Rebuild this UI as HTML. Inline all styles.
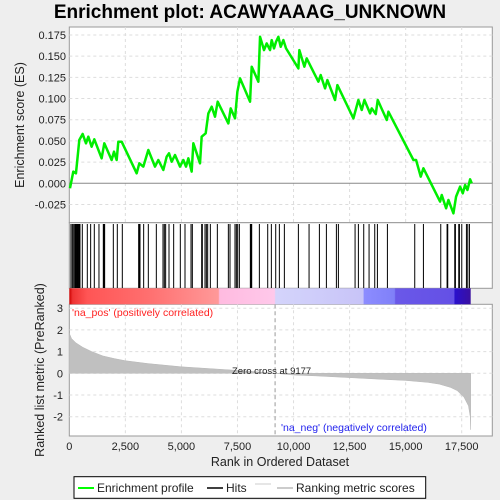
<!DOCTYPE html>
<html><head><meta charset="utf-8"><style>
body{margin:0;background:#eeeeee;}
svg{display:block;font-family:"Liberation Sans",sans-serif;}
</style></head><body>
<svg id="chart" width="500" height="500" viewBox="0 0 500 500">
<rect x="0" y="0" width="500" height="500" fill="#eeeeee"/>
<text x="250" y="18" text-anchor="middle" font-size="19" font-weight="bold" fill="#000">Enrichment plot: ACAWYAAAG_UNKNOWN</text>
<rect x="69.3" y="27" width="423" height="195.7" fill="#fff" stroke="#999"/>
<rect x="69.3" y="222.7" width="423" height="65.6" fill="#fff" stroke="#999"/>
<rect x="69.3" y="304.3" width="423" height="131.7" fill="#fff" stroke="#999"/>
<g id="grid"></g>
<g id="bar"></g>
<g id="hits"></g>
<g id="metric"></g>
<g id="es"></g>
<g id="axes"></g>
<text transform="translate(24,125) rotate(-90)" text-anchor="middle" font-size="12.5" fill="#222">Enrichment score (ES)</text>
<text transform="translate(44,370) rotate(-90)" text-anchor="middle" font-size="12.5" fill="#222">Ranked list metric (PreRanked)</text>
<text x="280" y="466" text-anchor="middle" font-size="12.5" fill="#222">Rank in Ordered Dataset</text>
<text x="72" y="316" font-size="10.5" fill="#ff2020">'na_pos' (positively correlated)</text>
<text x="281" y="431" font-size="10.5" fill="#2222ee">'na_neg' (negatively correlated)</text>
<text x="232" y="374" font-size="9.5" fill="#222">Zero cross at 9177</text>
<g>
<rect x="74" y="476.7" width="351.7" height="21.6" fill="#fff" stroke="#000"/>
<line x1="78" y1="488" x2="94" y2="488" stroke="#00ff00" stroke-width="2"/>
<text x="97" y="492" font-size="12" fill="#222">Enrichment profile</text>
<line x1="207" y1="488" x2="223" y2="488" stroke="#000" stroke-width="1.5"/>
<text x="226" y="492" font-size="12" fill="#222">Hits</text>
<line x1="255" y1="484" x2="271" y2="484" stroke="#ccc" stroke-width="1"/>
<line x1="277" y1="488" x2="293" y2="488" stroke="#bbb" stroke-width="1.5"/>
<text x="296" y="492" font-size="12" fill="#222">Ranking metric scores</text>
</g>
</svg>
<script>
const esRanks=[30,104,178,297,357,446,595,744,848,996,1115,1442,1561,1888,1993,2112,2186,2335,3004,3123,3301,3524,3822,3970,4193,4342,4446,4565,4714,4937,5086,5205,5309,5457,5532,5829,5903,6082,6201,6350,6498,6617,7093,7197,7390,7495,7614,8060,8134,8432,8506,8684,8803,8952,9026,9130,9219,9324,9428,9547,9666,10216,10260,10483,10587,11108,11212,11405,11509,11851,11955,12669,12892,13041,13160,13413,13487,13666,13755,14157,14231,15346,15465,15673,15792,16535,16610,16803,16907,17130,17249,17428,17547,17651,17755,17874,17948];
const esValues=[-0.0059,0.0039,0.0138,0.0118,0.0275,0.0511,0.0582,0.0472,0.055,0.0432,0.0519,0.0295,0.0472,0.0275,0.0373,0.0275,0.0491,0.0491,0.0118,0.0236,0.0197,0.0393,0.0197,0.0275,0.0157,0.0314,0.0354,0.0255,0.0334,0.0197,0.0275,0.0197,0.0295,0.0138,0.0472,0.0236,0.055,0.059,0.0825,0.0904,0.0786,0.0963,0.0707,0.0884,0.0766,0.1081,0.1238,0.0963,0.1376,0.1199,0.1729,0.1572,0.1651,0.1572,0.169,0.1592,0.167,0.1729,0.1611,0.169,0.1592,0.1356,0.1572,0.1376,0.1474,0.1199,0.1277,0.112,0.1218,0.0983,0.1159,0.0766,0.0983,0.0865,0.0983,0.0825,0.0884,0.0817,0.0983,0.0747,0.0845,0.0275,0.0275,0.0079,0.0177,-0.0216,-0.0138,-0.0295,-0.0197,-0.0354,-0.0157,-0.0039,-0.0118,-0.002,-0.0079,0.0047,0.0];
const hitRanks=[74,134,178,238,268,297,327,357,387,416,446,476,580,803,952,1115,1323,1517,1546,1576,1963,2141,2364,3093,3123,3153,3316,3524,3881,4178,4238,4297,4446,4654,4951,5160,5428,5487,5903,5933,6052,6112,6171,6290,6602,7093,7167,7390,7450,7509,7584,8074,8104,8134,8476,8848,9011,9205,9368,9591,10216,10692,11153,11465,11911,12000,12744,12892,13130,13368,13621,13740,14186,15405,15792,16565,16847,16877,17189,17219,17368,17398,17502,17710,17770,17844];
const metricRanks=[0,100,300,600,1000,1500,2000,2500,3500,5000,6500,8000,9177,10000,11000,12500,14000,15000,16000,16500,17000,17300,17600,17800,17880,17900];
const metricValues=[1.85,1.6,1.4,1.2,1.0,0.8,0.68,0.58,0.45,0.3,0.2,0.1,0,-0.08,-0.12,-0.2,-0.28,-0.33,-0.42,-0.5,-0.65,-0.8,-1.1,-1.5,-2.0,-2.6];
const xTicks=[0,2500,5000,7500,10000,12500,15000,17500];
const esTicks=[-0.025,0,0.025,0.05,0.075,0.1,0.125,0.15,0.175];
const metricTicks=[-2,-1,0,1,2,3];
const barStops=[[0,"#cc0000"],[150,"#ee3333"],[800,"#ff5555"],[3500,"#ff6f6f"],[6650,"#ff9999"],[6700,"#ffbbe0"],[9150,"#ffc8ea"],[9200,"#d4d4fb"],[13100,"#c8c4f8"],[13150,"#8c8cff"],[14500,"#8080f8"],[14550,"#6a58e8"],[17150,"#6450e6"],[17200,"#2a10cc"],[17900,"#3a10a0"]];
const NS="http://www.w3.org/2000/svg";
const X=r=>69.3+r*(56.06/2500);
const YE=v=>183.3-v*(148.3/0.175);
const YM=v=>373.3-v*21.7;
function mk(tag,attrs,parent){const e=document.createElementNS(NS,tag);for(const k in attrs)e.setAttribute(k,attrs[k]);document.getElementById(parent).appendChild(e);return e;}
function fmt(n){return n.toLocaleString('en-US');}
// grid
xTicks.forEach(t=>{
 if(t===0)return;
 let g=mk('line',{x1:X(t),x2:X(t),y1:27,y2:222.7,stroke:'#ddd','stroke-dasharray':'3,3'},'grid');
 
 
 let g2=mk('line',{x1:X(t),x2:X(t),y1:304.3,y2:436,stroke:'#ddd','stroke-dasharray':'3,3'},'grid');
 
 
});
esTicks.forEach(t=>{
 let g=mk('line',{x1:69.3,x2:492.3,y1:YE(t),y2:YE(t),stroke:t===0?'#888':'#ddd','stroke-dasharray':t===0?'':'3,3'},'grid');
 
 
 let l=mk('text',{x:66,y:YE(t)+4,'text-anchor':'end','font-size':'11',fill:'#222'},'axes');
 l.textContent=t.toFixed(3);
 
 
});
metricTicks.forEach(t=>{
 let g=mk('line',{x1:69.3,x2:492.3,y1:YM(t),y2:YM(t),stroke:'#ddd','stroke-dasharray':'3,3'},'grid');
 
 
 let l=mk('text',{x:63,y:YM(t)+4,'text-anchor':'end','font-size':'11',fill:'#222'},'axes');
 l.textContent=t;
 
 
});
xTicks.forEach(t=>{
 let l=mk('text',{x:X(t),y:450,'text-anchor':'middle','font-size':'11',fill:'#222'},'axes');
 l.textContent=fmt(t);
 
 
});
// zero cross line
let zc=mk('line',{x1:X(9177),x2:X(9177),y1:304.3,y2:436,stroke:'#999','stroke-dasharray':'4,3'},'grid');


// color bar
let defs=mk('defs',{},'bar');
let lg=document.createElementNS(NS,'linearGradient');
lg.setAttribute('id','bg');lg.setAttribute('gradientUnits','userSpaceOnUse');
lg.setAttribute('x1',X(0));lg.setAttribute('x2',X(17900));lg.setAttribute('y1',0);lg.setAttribute('y2',0);
defs.appendChild(lg);
barStops.forEach(s=>{const st=document.createElementNS(NS,'stop');st.setAttribute('offset',(s[0]/17900));st.setAttribute('stop-color',s[1]);lg.appendChild(st);});
let br=mk('rect',{x:X(0),y:288.3,width:X(17900)-X(0),height:16,fill:'url(#bg)'},'bar');


// hits
hitRanks.forEach(r=>{
 let h=mk('line',{x1:X(r),x2:X(r),y1:224,y2:288,stroke:'#000','stroke-width':1},'hits');
 
 
});
// metric area
let d='M'+X(0)+','+YM(0);
metricRanks.forEach((r,i)=>{d+=' L'+X(r).toFixed(2)+','+YM(metricValues[i]).toFixed(2);});
d+=' L'+X(metricRanks[metricRanks.length-1])+','+YM(0)+' Z';
let ma=mk('path',{d:d,fill:'#c0c0c0',stroke:'#b8b8b8','stroke-width':0.5},'metric');


// ES line
let pts=esRanks.map((r,i)=>X(r).toFixed(2)+','+YE(esValues[i]).toFixed(2)).join(' ');
let el=mk('polyline',{points:pts,fill:'none',stroke:'#00ee00','stroke-width':2.5,'stroke-linejoin':'round'},'es');


</script>
</body></html>
